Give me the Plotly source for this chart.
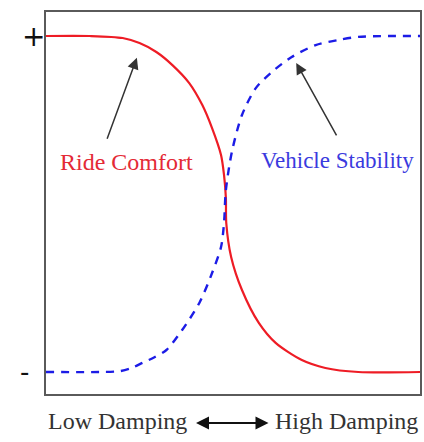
import plotly.graph_objects as go

# Damping (0 = low, 100 = high) and normalized performance (-1 .. +1)
ride_x = [0, 11.7, 20.5, 25.0, 29.5, 33.8, 38.3, 41.8, 44.4, 46.8, 47.6, 48.1, 48.2, 49.5, 52.4, 56.9, 61.4, 68.4, 74.7, 83.5, 100]
ride_y = [1, 1, 0.988, 0.958, 0.905, 0.827, 0.720, 0.589, 0.452, 0.292, 0.173, 0.036, -0.113, -0.315, -0.512, -0.708, -0.827, -0.929, -0.976, -1, -1]

stab_x = [0, 14.4, 19.7, 22.7, 25.8, 29.0, 32.2, 36.4, 41.0, 44.4, 46.8, 47.6, 48.1, 49.7, 52.4, 56.1, 60.4, 65.7, 72.1, 78.2, 83.5, 100]
stab_y = [-1, -1, -0.995, -0.978, -0.946, -0.912, -0.869, -0.75, -0.589, -0.411, -0.256, -0.113, 0.083, 0.310, 0.530, 0.690, 0.786, 0.875, 0.946, 0.976, 0.995, 1]

RED = "#ee1c25"
BLUE = "#1c1ce6"
SERIF = "Liberation Serif, Times New Roman, serif"

fig = go.Figure()
fig.add_trace(go.Scatter(x=ride_x, y=ride_y, mode="lines",
                         line=dict(color=RED, width=2.2, shape="spline", smoothing=0.8),
                         name="Ride Comfort", hoverinfo="skip"))
fig.add_trace(go.Scatter(x=stab_x, y=stab_y, mode="lines",
                         line=dict(color=BLUE, width=2.4, dash="8px,7px", shape="spline", smoothing=0.8),
                         name="Vehicle Stability", hoverinfo="skip"))

ann = []
# series labels with pointing arrows
ann.append(dict(x=21.4, y=0.25, xref="x", yref="y",
                text="Ride Comfort", showarrow=False,
                font=dict(family=SERIF, size=24, color="#e42a36")))
ann.append(dict(x=77.9, y=0.262, xref="x", yref="y",
                text="Vehicle Stability", showarrow=False,
                font=dict(family=SERIF, size=23, color="#3a3ade")))
ann.append(dict(x=24.3, y=0.87, xref="x", yref="y", ax=16.2, ay=0.38, axref="x", ayref="y",
                text="", showarrow=True, arrowhead=2, arrowsize=1.5, arrowwidth=1.5, arrowcolor="#333333"))
ann.append(dict(x=66.9, y=0.84, xref="x", yref="y", ax=77.9, ay=0.40, axref="x", ayref="y",
                text="", showarrow=True, arrowhead=2, arrowsize=1.5, arrowwidth=1.5, arrowcolor="#333333"))
# + / - markers
ann.append(dict(x=-0.069, y=1.0, xref="paper", yref="y", text="+", showarrow=False,
                font=dict(family="DejaVu Sans, sans-serif", size=28, color="#111111")))
ann.append(dict(x=-0.074, y=-1.0, xref="paper", yref="y", text="-", showarrow=False,
                font=dict(family="DejaVu Sans, sans-serif", size=26, color="#111111")))
# x-axis caption
ann.append(dict(x=0.0, y=-0.07, xref="paper", yref="paper", xanchor="left", yanchor="middle",
                text="Low Damping", showarrow=False,
                font=dict(family=SERIF, size=24, color="#333333")))
ann.append(dict(x=1.0, y=-0.07, xref="paper", yref="paper", xanchor="right", yanchor="middle",
                text="High Damping", showarrow=False,
                font=dict(family=SERIF, size=24, color="#333333")))
ann.append(dict(x=0.595, y=-0.076, xref="x domain", yref="y domain", ax=0.397, ay=-0.076,
                axref="x domain", ayref="y domain", text="", showarrow=True,
                arrowhead=2, startarrowhead=2, arrowside="end+start",
                arrowsize=1.3, startarrowsize=1.3, arrowwidth=2, arrowcolor="#111111"))

fig.update_layout(
    width=424, height=442,
    margin=dict(l=46, r=2, t=12, b=48),
    paper_bgcolor="white", plot_bgcolor="white",
    showlegend=False,
    annotations=ann,
    xaxis=dict(range=[0, 100], showgrid=False, zeroline=False, showticklabels=False,
               ticks="", showline=True, mirror=True, linecolor="#5a5a5a", linewidth=1.5),
    yaxis=dict(range=[-1.131, 1.143], showgrid=False, zeroline=False, showticklabels=False,
               ticks="", showline=True, mirror=True, linecolor="#5a5a5a", linewidth=1.5),
)

fig.write_html("out.html", config={"displayModeBar": False},
               post_script="document.body.style.margin='0';document.body.style.overflow='hidden';")
